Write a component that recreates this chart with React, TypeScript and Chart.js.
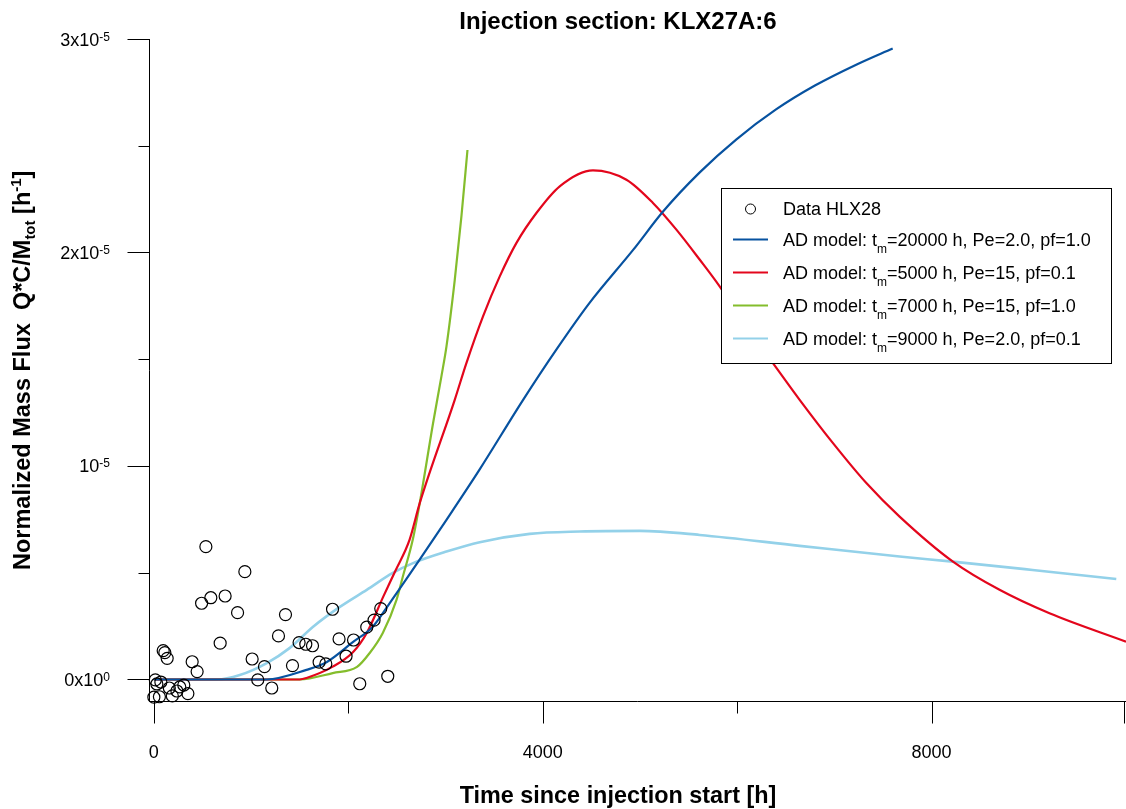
import React, { useEffect, useRef } from 'react';
import { Chart, registerables } from 'chart.js';

Chart.register(...registerables);

const FONT = "'Liberation Sans', Arial, Helvetica, sans-serif";
const TITLE = 'Injection section: KLX27A:6';
const X_TITLE = 'Time since injection start [h]';
const Y_UNIT = 1e-5;

// Measured data (time [h], flux in units of 1e-5 h^-1)
const DATA_T = [15, 31, 72, 159, 237, 267, 308, 350, 190, 57, 0, 96, 113, 137, 394, 445, 535, 936, 491, 586, 733, 861, 682, 1011, 1138, 1069, 1213, 1282, 1354, 1426, 1494, 1563, 1632, 1700, 1769, 1838, 1905, 1977, 2054, 2118, 2190, 2265, 2334, 2406];
const DATA_V = [-0.002, -0.021, -0.012, -0.04, -0.054, -0.035, -0.026, -0.066, -0.077, -0.081, -0.083, 0.135, 0.126, 0.099, 0.083, 0.037, 0.622, 0.505, 0.357, 0.383, 0.391, 0.313, 0.17, 0.096, 0.06, -0.002, -0.04, 0.204, 0.304, 0.065, 0.173, 0.165, 0.158, 0.081, 0.073, 0.329, 0.19, 0.109, 0.185, -0.02, 0.245, 0.278, 0.332, 0.015];

// AD model: tm=20000 h, Pe=2.0, pf=1.0
const BLUE_T = [0, 1160, 1570, 1780, 2050, 2250, 2430, 2720, 3010, 3350, 3800, 4140, 4480, 4930, 5240, 5610, 5990, 6400, 6800, 7230, 7600];
const BLUE_V = [0, 0, 0.045, 0.082, 0.176, 0.246, 0.36, 0.552, 0.748, 0.983, 1.311, 1.545, 1.763, 2.012, 2.193, 2.373, 2.529, 2.67, 2.782, 2.881, 2.956];

// AD model: tm=5000 h, Pe=15, pf=0.1
const RED_T = [0, 1500, 1570, 1840, 2050, 2190, 2360, 2480, 2630, 2735, 3095, 3215, 3386, 3558, 3730, 3935, 4175, 4517, 4861, 5134, 5375, 5614, 5820, 6080, 6368, 6643, 6986, 7329, 7671, 8220, 8699, 9213, 10000];
const RED_V = [0, 0, 0.007, 0.06, 0.129, 0.218, 0.388, 0.505, 0.654, 0.826, 1.31, 1.482, 1.701, 1.888, 2.045, 2.185, 2.31, 2.385, 2.341, 2.232, 2.107, 1.967, 1.841, 1.66, 1.482, 1.31, 1.107, 0.92, 0.763, 0.552, 0.42, 0.31, 0.177];

// AD model: tm=7000 h, Pe=15, pf=1.0
const GREEN_T = [0, 1500, 1840, 2090, 2220, 2355, 2496, 2560, 2663, 2735, 2872, 2958, 3010, 3095, 3164, 3226];
const GREEN_V = [0, 0, 0.03, 0.059, 0.124, 0.218, 0.373, 0.48, 0.654, 0.826, 1.2, 1.42, 1.56, 1.87, 2.17, 2.48];

// AD model: tm=9000 h, Pe=2.0, pf=0.1
const LIGHT_T = [0, 650, 884, 1162, 1399, 1635, 1913, 2190, 2458, 2666, 3010, 3352, 3866, 4381, 5000, 5614, 6643, 7671, 8216, 9039, 9900];
const LIGHT_V = [0, 0, 0.021, 0.077, 0.148, 0.246, 0.34, 0.42, 0.499, 0.545, 0.599, 0.643, 0.682, 0.693, 0.696, 0.677, 0.626, 0.576, 0.552, 0.513, 0.471];

const X_MAJOR = [0, 4000, 8000, 10000];
const X_MINOR = [2000, 6000];
const X_LABELS = ['0', '4000', '8000'];
const Y_MAJOR = [0, 1, 2, 3];
const Y_MINOR = [0.5, 1.5, 2.5];
const Y_LABEL_BASE = ['0x10', '10', '2x10', '3x10'];
const Y_LABEL_EXP = ['0', '-5', '-5', '-5'];

const COLORS = ['#0752a0', '#e3061c', '#84bd2c', '#93d1e9'];
const LEGEND_DATA = 'Data HLX28';
const LEGEND_PRE = 'AD model: t';
const LEGEND_SUB = 'm';
const LEGEND_POST = ['=20000 h, Pe=2.0, pf=1.0', '=5000 h, Pe=15, pf=0.1', '=7000 h, Pe=15, pf=1.0', '=9000 h, Pe=2.0, pf=0.1'];

const toPts = (t: number[], v: number[]) => t.map((x, i) => ({ x, y: v[i] * Y_UNIT }));

const overlay = {
  id: 'overlay',
  afterDatasetsDraw(chart: any) {
    const ctx: CanvasRenderingContext2D = chart.ctx;
    const xs = chart.scales.x;
    const ys = chart.scales.y;
    const area = chart.chartArea;
    ctx.save();
    ctx.strokeStyle = '#000';
    ctx.fillStyle = '#000';
    ctx.lineWidth = 1;

    const ax = Math.round(area.left) + 0.5;
    const ay = Math.round(area.bottom) + 0.5;
    // axis lines
    ctx.beginPath();
    ctx.moveTo(ax, Math.round(area.top));
    ctx.lineTo(ax, ay);
    ctx.lineTo(area.right, ay);
    ctx.stroke();

    // y ticks
    ctx.beginPath();
    Y_MAJOR.forEach((v) => {
      const y = Math.round(ys.getPixelForValue(v * Y_UNIT)) + 0.5;
      ctx.moveTo(ax - 22, y);
      ctx.lineTo(ax, y);
    });
    Y_MINOR.forEach((v) => {
      const y = Math.round(ys.getPixelForValue(v * Y_UNIT)) + 0.5;
      ctx.moveTo(ax - 11, y);
      ctx.lineTo(ax, y);
    });
    // x ticks
    X_MAJOR.forEach((t) => {
      const x = Math.min(Math.round(xs.getPixelForValue(t)) + 0.5, area.right - 1.5);
      ctx.moveTo(x, ay);
      ctx.lineTo(x, ay + 22);
    });
    X_MINOR.forEach((t) => {
      const x = Math.round(xs.getPixelForValue(t)) + 0.5;
      ctx.moveTo(x, ay);
      ctx.lineTo(x, ay + 12);
    });
    ctx.stroke();

    // y tick labels with superscripts
    Y_MAJOR.forEach((v, i) => {
      const y = ys.getPixelForValue(v * Y_UNIT);
      const right = 110;
      ctx.font = `12px ${FONT}`;
      const ew = ctx.measureText(Y_LABEL_EXP[i]).width;
      ctx.textAlign = 'left';
      ctx.textBaseline = 'alphabetic';
      ctx.fillText(Y_LABEL_EXP[i], right - ew, y + 1.5);
      ctx.font = `18px ${FONT}`;
      ctx.textAlign = 'right';
      ctx.fillText(Y_LABEL_BASE[i], right - ew, y + 6.5);
    });

    // x tick labels
    ctx.font = `18px ${FONT}`;
    ctx.textAlign = 'center';
    X_LABELS.forEach((lab, i) => {
      const x = xs.getPixelForValue(X_MAJOR[i]);
      ctx.fillText(lab, x, 758);
    });

    // title and x title
    ctx.font = `bold 24px ${FONT}`;
    ctx.textAlign = 'center';
    ctx.fillText(TITLE, 618, 29);
    ctx.font = `bold 23.4px ${FONT}`;
    ctx.fillText(X_TITLE, 618, 803);

    // y title (rotated) with subscript and superscript
    ctx.save();
    ctx.translate(30, 570);
    ctx.rotate(-Math.PI / 2);
    ctx.textAlign = 'left';
    const segs: [string, string, number][] = [
      ['Normalized Mass Flux  Q*C/M', `bold 23.5px ${FONT}`, 0],
      ['tot', `bold 15px ${FONT}`, 5],
      [' [h', `bold 23.5px ${FONT}`, 0],
      ['-1', `bold 15px ${FONT}`, -9],
      [']', `bold 23.5px ${FONT}`, 0],
    ];
    let cx = 0;
    segs.forEach(([txt, f, dy]) => {
      ctx.font = f;
      ctx.fillText(txt, cx, dy);
      cx += ctx.measureText(txt).width;
    });
    ctx.restore();

    // legend
    const lx = 721.5, ly = 188.5, lw = 390, lh = 175;
    ctx.fillStyle = '#fff';
    ctx.fillRect(lx, ly, lw, lh);
    ctx.strokeStyle = '#000';
    ctx.lineWidth = 1;
    ctx.strokeRect(lx, ly, lw, lh);
    ctx.fillStyle = '#000';
    const rows = [209, 239.5, 272.5, 305.5, 338.5];
    ctx.beginPath();
    ctx.arc(750.5, rows[0], 5, 0, Math.PI * 2);
    ctx.stroke();
    ctx.textAlign = 'left';
    ctx.font = `18px ${FONT}`;
    ctx.fillText(LEGEND_DATA, 783, rows[0] + 6);
    LEGEND_POST.forEach((post, i) => {
      const y = rows[i + 1];
      ctx.strokeStyle = COLORS[i];
      ctx.lineWidth = 2;
      ctx.beginPath();
      ctx.moveTo(733, y);
      ctx.lineTo(768, y);
      ctx.stroke();
      let x = 783;
      ctx.font = `18px ${FONT}`;
      ctx.fillText(LEGEND_PRE, x, y + 6);
      x += ctx.measureText(LEGEND_PRE).width;
      ctx.font = `12px ${FONT}`;
      ctx.fillText(LEGEND_SUB, x, y + 13);
      x += ctx.measureText(LEGEND_SUB).width;
      ctx.font = `18px ${FONT}`;
      ctx.fillText(post, x, y + 6);
    });
    ctx.restore();
  },
};

export default function App() {
  const ref = useRef<HTMLCanvasElement>(null);
  useEffect(() => {
    const canvas = ref.current;
    if (!canvas) return;
    const lineDs = (label: string, t: number[], v: number[], color: string, w: number) => ({
      label,
      data: toPts(t, v),
      showLine: true,
      borderColor: color,
      backgroundColor: color,
      borderWidth: w,
      pointRadius: 0,
      cubicInterpolationMode: 'monotone',
    });
    const chart = new Chart(canvas, {
      type: 'scatter',
      data: {
        datasets: [
          {
            label: LEGEND_DATA,
            data: toPts(DATA_T, DATA_V),
            pointRadius: 6,
            pointBorderWidth: 1.2,
            pointBorderColor: '#000',
            pointBackgroundColor: 'rgba(0,0,0,0)',
            showLine: false,
            clip: false,
          } as any,
          lineDs('AD model: tm=20000 h, Pe=2.0, pf=1.0', BLUE_T, BLUE_V, COLORS[0], 2.2),
          lineDs('AD model: tm=5000 h, Pe=15, pf=0.1', RED_T, RED_V, COLORS[1], 2.2),
          lineDs('AD model: tm=7000 h, Pe=15, pf=1.0', GREEN_T, GREEN_V, COLORS[2], 2.2),
          lineDs('AD model: tm=9000 h, Pe=2.0, pf=0.1', LIGHT_T, LIGHT_V, COLORS[3], 2.6),
        ],
      },
      options: {
        animation: false,
        responsive: false,
        layout: { autoPadding: false, padding: { top: 39, left: 0, right: 0, bottom: 0 } },
        plugins: {
          legend: { display: false },
          title: { display: false },
          tooltip: { enabled: false },
        },
        scales: {
          x: {
            type: 'linear',
            min: -50,
            max: 10000,
            ticks: { display: false },
            grid: { display: false },
            border: { display: false },
            afterFit: (s: any) => { s.height = 108; },
          },
          y: {
            type: 'linear',
            min: -0.1008e-5,
            max: 3e-5,
            ticks: { display: false },
            grid: { display: false },
            border: { display: false },
            afterFit: (s: any) => { s.width = 149; },
          },
        },
      } as any,
      plugins: [overlay],
    });
    return () => chart.destroy();
  }, []);
  return (
    <div style={{ position: 'absolute', left: 0, top: 0, width: 1126, height: 809, background: '#fff' }}>
      <canvas ref={ref} width={1126} height={809} style={{ display: 'block' }} />
    </div>
  );
}
